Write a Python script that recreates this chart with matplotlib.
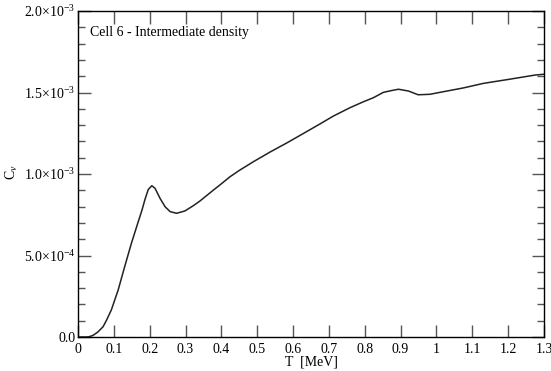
import matplotlib
matplotlib.use("Agg")
import matplotlib.pyplot as plt
from matplotlib.ticker import MultipleLocator, FixedLocator, FixedFormatter

plt.rcParams['font.family'] = ['Liberation Serif', 'DejaVu Serif']
plt.rcParams['mathtext.fontset'] = 'custom'
plt.rcParams['mathtext.rm'] = 'Liberation Serif'
plt.rcParams['mathtext.it'] = 'Liberation Serif:italic'

T = [0, 0.02, 0.03, 0.042, 0.055, 0.07, 0.08, 0.093, 0.112, 0.13, 0.149,
     0.167, 0.178, 0.187, 0.196, 0.206, 0.215, 0.229, 0.243, 0.257, 0.275,
     0.298, 0.322, 0.340, 0.377, 0.396, 0.424, 0.45, 0.489, 0.536, 0.582,
     0.61, 0.675, 0.712, 0.759, 0.796, 0.824, 0.852, 0.875, 0.894, 0.922,
     0.949, 0.982, 1.01, 1.075, 1.131, 1.2, 1.275, 1.3]
Cv_e4 = [0, 0, 0.01, 0.1, 0.3, 0.63, 1.05, 1.66, 2.88, 4.3, 5.75,
         7.0, 7.75, 8.45, 9.05, 9.28, 9.12, 8.5, 7.99, 7.69, 7.59,
         7.73, 8.06, 8.34, 9.0, 9.33, 9.83, 10.22, 10.75, 11.35, 11.9,
         12.25, 13.07, 13.55, 14.07, 14.43, 14.68, 15.01, 15.12, 15.2, 15.09,
         14.86, 14.89, 15.01, 15.28, 15.56, 15.8, 16.07, 16.12]
Cv = [v * 1e-4 for v in Cv_e4]

xticks = [0, 0.1, 0.2, 0.3, 0.4, 0.5, 0.6, 0.7, 0.8, 0.9, 1.0, 1.1, 1.2, 1.3]
xticklabels = ["0", "0.1", "0.2", "0.3", "0.4", "0.5", "0.6", "0.7", "0.8",
               "0.9", "1", "1.1", "1.2", "1.3"]
yticks = [0, 5e-4, 1e-3, 1.5e-3, 2e-3]
yticklabels = ["0.0", r"5.0$\times$10$^{-4}$", r"1.0$\times$10$^{-3}$",
               r"1.5$\times$10$^{-3}$", r"2.0$\times$10$^{-3}$"]

fig = plt.figure(figsize=(5.51, 3.71), dpi=100)
ax = fig.add_axes([78/551, 34/371, (544-78)/551, (337-11)/371])
ax.plot(T, Cv, color='#222222', lw=1.1, solid_joinstyle='round')
ax.set_xlim(0, 1.3)
ax.set_ylim(0, 2e-3)
ax.xaxis.set_major_locator(FixedLocator(xticks))
ax.xaxis.set_major_formatter(FixedFormatter(xticklabels))
ax.yaxis.set_major_locator(FixedLocator(yticks))
ax.yaxis.set_major_formatter(FixedFormatter(yticklabels))
ax.yaxis.set_minor_locator(MultipleLocator(1e-4))
ax.tick_params(which='both', direction='in', top=True, right=True,
               labelsize=10, color='#555555')
ax.tick_params(which='major', length=9, width=1)
ax.tick_params(which='minor', length=5, width=1)
ax.tick_params(axis='x', pad=4)
ax.tick_params(axis='y', pad=2)
for s in ax.spines.values():
    s.set_linewidth(1.0)
ax.set_xlabel("T  [MeV]", fontsize=10, labelpad=0)
fig.text(12/551, 1 - 172/371, r"C$_v$", rotation=90, fontsize=10,
         ha='center', va='center')
ax.text(0.025, 0.955, "Cell 6 - Intermediate density", transform=ax.transAxes,
        fontsize=10, va='top', ha='left')
fig.savefig("out.png", dpi=100)
